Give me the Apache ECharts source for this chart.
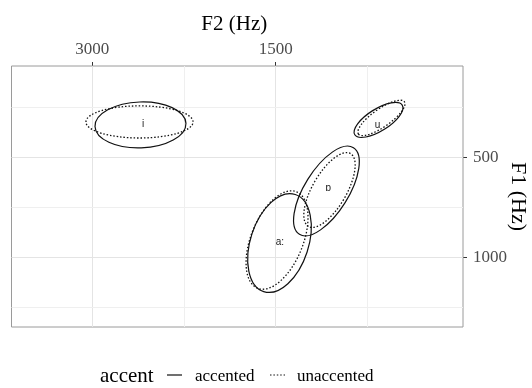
<!DOCTYPE html>
<html>
<head>
<meta charset="utf-8">
<script src="https://cdn.jsdelivr.net/npm/echarts@6/dist/echarts.min.js"></script>
<style>html,body{margin:0;padding:0;background:#fff}#c{width:532px;height:388px}</style>
</head>
<body>
<div id="c"></div>
<script>
// ---- data ----
const vowels = ['i', 'a:', 'ɒ', 'u'];
const labelF2 = [2585, 1465, 1070, 667];
const labelF1 = [334, 924, 653, 340];

// accented ellipses: centre, end of major axis, minor/major ratio
const accCenterF2 = [2606, 1469, 1085, 659];
const accCenterF1 = [338.5, 928.5, 668.5, 313.5];
const accAxisF2   = [2234, 1340, 864, 465];
const accAxisF1   = [330.6, 686, 452, 239.3];
const accRatio    = [0.505, 0.569, 0.431, 0.393];

// unaccented ellipses
const unaCenterF2 = [2614, 1489, 1060, 635];
const unaCenterF1 = [323.5, 913.5, 663.5, 303.5];
const unaAxisF2   = [2176, 1330, 888, 447];
const unaAxisF1   = [323.5, 672.5, 481.7, 223.2];
const unaRatio    = [0.30, 0.50, 0.405, 0.32];

const legendTitle = 'accent';
const accentLevels = ['accented', 'unaccented'];
const f2Ticks = [1500, 3000];
const f1Ticks = [500, 1000];
const f2Major = [1500, 3000];
const f2Minor = [750, 2250];
const f1Major = [500, 1000];
const f1Minor = [250, 750, 1250];

// ---- chart ----
const serif = 'Liberation Serif';
const ink = '#111';
const dotDash = [1.5, 1.9];
function ellData(cF2, cF1, aF2, aF1, r) {
  return cF2.map((v, i) => [v, cF1[i], aF2[i], aF1[i], r[i]]);
}
function ellipseRenderer(dash, lw) {
  return function (params, api) {
    const c = api.coord([api.value(0), api.value(1)]);
    const e = api.coord([api.value(2), api.value(3)]);
    const dx = e[0] - c[0], dy = e[1] - c[1];
    const rx = Math.hypot(dx, dy);
    const ry = rx * api.value(4);
    return {
      type: 'ellipse',
      x: c[0], y: c[1],
      rotation: Math.atan2(-dy, dx),
      shape: { cx: 0, cy: 0, rx: rx, ry: ry },
      style: { fill: 'none', stroke: ink, lineWidth: lw, lineDash: dash }
    };
  };
}
const gridMajor = { color: '#e4e4e4', width: 1, type: 'solid' };
const gridMinor = { color: '#efefef', width: 1, type: 'solid' };
const markData = []
  .concat(f2Major.map(v => ({ xAxis: v, lineStyle: gridMajor })))
  .concat(f2Minor.map(v => ({ xAxis: v, lineStyle: gridMinor })))
  .concat(f1Major.map(v => ({ yAxis: v, lineStyle: gridMajor })))
  .concat(f1Minor.map(v => ({ yAxis: v, lineStyle: gridMinor })));

// legend drawn as graphic (key lines + texts)
const legY = 378;
const legendGraphic = [
  { type: 'text', left: 100, top: legY - 12, style: { text: legendTitle, fontFamily: serif, fontSize: 21, fill: '#000' } },
  { type: 'line', shape: { x1: 167, y1: legY - 3, x2: 182, y2: legY - 3 }, style: { stroke: ink, lineWidth: 1.2 } },
  { type: 'text', left: 195, top: legY - 10, style: { text: accentLevels[0], fontFamily: serif, fontSize: 17, fill: '#000' } },
  { type: 'line', shape: { x1: 270, y1: legY - 3, x2: 285, y2: legY - 3 }, style: { stroke: ink, lineWidth: 1.2, lineDash: dotDash } },
  { type: 'text', left: 297, top: legY - 10, style: { text: accentLevels[1], fontFamily: serif, fontSize: 17, fill: '#000' } }
];

const chart = echarts.init(document.getElementById('c'), null, { renderer: 'canvas' });
chart.setOption({
  animation: false,
  backgroundColor: '#fff',
  grid: { left: 11.5, right: 69, top: 66, bottom: 61, containLabel: false, outerBoundsMode: 'none',
          show: true, borderColor: '#9a9a9a', borderWidth: 1, backgroundColor: 'transparent', z: 3 },
  xAxis: {
    type: 'value', position: 'top', inverse: true, min: -32, max: 3661,
    name: 'F2 (Hz)', nameLocation: 'middle', nameGap: 31, nameMoveOverlap: false,
    nameTextStyle: { fontFamily: serif, fontSize: 21, color: '#000', padding: [0, 6, 0, 0] },
    axisLine: { show: false, onZero: false },
    axisTick: { show: true, length: 4, customValues: f2Ticks, lineStyle: { color: '#333', width: 1 } },
    axisLabel: { customValues: f2Ticks, margin: 8, fontFamily: serif, fontSize: 17, color: '#4d4d4d',
                 formatter: v => String(v) },
    splitLine: { show: false }
  },
  yAxis: {
    type: 'value', position: 'right', inverse: true, min: 44, max: 1348,
    name: 'F1 (Hz)', nameLocation: 'middle', nameGap: 44, nameRotate: -90, nameMoveOverlap: false,
    nameTextStyle: { fontFamily: serif, fontSize: 22, color: '#000' },
    axisLine: { show: false, onZero: false },
    axisTick: { show: true, length: 4, customValues: f1Ticks, lineStyle: { color: '#333', width: 1 } },
    axisLabel: { customValues: f1Ticks, margin: 10, fontFamily: serif, fontSize: 17, color: '#4d4d4d',
                 formatter: v => String(v) },
    splitLine: { show: false }
  },
  graphic: legendGraphic,
  series: [
    { name: 'grid', type: 'line', data: [], silent: true, z: 0,
      markLine: { silent: true, symbol: ['none', 'none'], label: { show: false }, animation: false, data: markData } },
    { name: accentLevels[0], type: 'custom', z: 5, clip: true,
      renderItem: ellipseRenderer(null, 1.2),
      data: ellData(accCenterF2, accCenterF1, accAxisF2, accAxisF1, accRatio) },
    { name: accentLevels[1], type: 'custom', z: 5, clip: true,
      renderItem: ellipseRenderer(dotDash, 1.3),
      data: ellData(unaCenterF2, unaCenterF1, unaAxisF2, unaAxisF1, unaRatio) },
    { name: 'labels', type: 'custom', z: 6,
      renderItem: function (params, api) {
        const p = api.coord([api.value(0), api.value(1)]);
        return { type: 'text', x: p[0], y: p[1],
          style: { text: vowels[params.dataIndex], fontFamily: 'Liberation Sans', fontSize: 10, fill: '#222', align: 'center', verticalAlign: 'middle' } };
      },
      data: labelF2.map((v, i) => [v, labelF1[i]]) }
  ]
});
</script>
</body>
</html>
